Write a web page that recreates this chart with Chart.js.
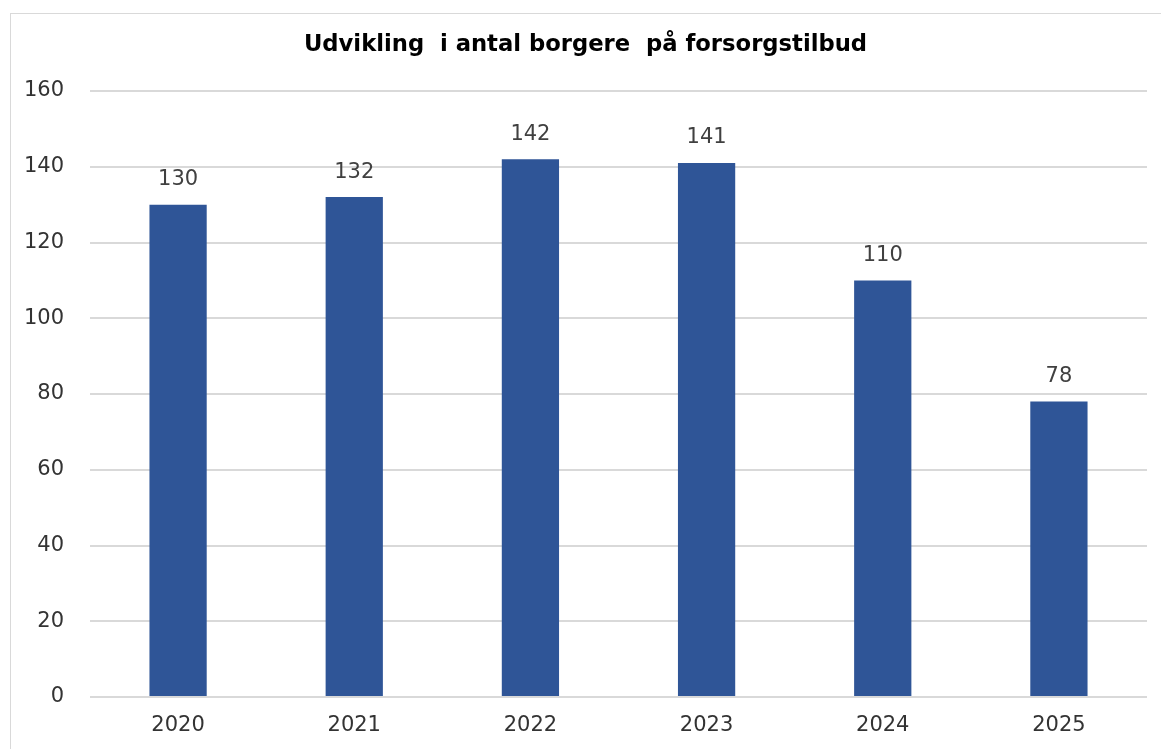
<!DOCTYPE html>
<html>
<head>
<meta charset="utf-8">
<script src="https://cdn.jsdelivr.net/npm/chart.js@4/dist/chart.umd.min.js"></script>
<style>
  html, body { margin: 0; padding: 0; background: #ffffff; }
  #wrap { width: 1161px; height: 749px; position: relative; }
</style>
</head>
<body>
<div id="wrap"><canvas id="c" width="1161" height="749"></canvas></div>
<script>
const categories = ["2020", "2021", "2022", "2023", "2024", "2025"];
const values = [130, 132, 142, 141, 110, 78];
const yTicks = [0, 20, 40, 60, 80, 100, 120, 140, 160];
const chartTitle = "Udvikling  i antal borgere  på forsorgstilbud";

const FONT = "'DejaVu Sans', Verdana, sans-serif";

const frame = {
  id: 'frame',
  beforeDraw(chart) {
    const ctx = chart.ctx;
    ctx.save();
    ctx.fillStyle = '#ffffff';
    ctx.fillRect(0, 0, chart.width, chart.height);
    ctx.strokeStyle = '#d9d9d9';
    ctx.lineWidth = 1;
    ctx.strokeRect(10.5, 13.5, chart.width + 20, chart.height + 20);
    ctx.restore();
  }
};

const barLabels = {
  id: 'barLabels',
  afterDatasetsDraw(chart) {
    const ctx = chart.ctx;
    const meta = chart.getDatasetMeta(0);
    ctx.save();
    ctx.font = '21px ' + FONT;
    ctx.fillStyle = '#404040';
    ctx.textAlign = 'center';
    ctx.textBaseline = 'middle';
    meta.data.forEach((bar, i) => {
      ctx.fillText(String(values[i]), bar.x, bar.y - 25);
    });
    ctx.restore();
  }
};

new Chart(document.getElementById('c'), {
  type: 'bar',
  data: {
    labels: categories,
    datasets: [{
      data: values,
      backgroundColor: '#2F5597',
      borderColor: '#2F5597',
      borderWidth: 0,
      categoryPercentage: 1,
      barPercentage: 0.325
    }]
  },
  options: {
    responsive: false,
    animation: false,
    layout: { padding: { left: 24, right: 14, top: 0, bottom: 0 } },
    plugins: {
      legend: { display: false },
      tooltip: { enabled: false },
      title: {
        display: true,
        text: chartTitle,
        color: '#000000',
        font: { family: FONT, size: 22.7, weight: 'bold' },
        padding: { top: 31.5, bottom: 32.3 }
      }
    },
    scales: {
      x: {
        grid: { display: false, drawTicks: false },
        border: { display: false },
        afterFit(scale) { scale.height = 52; },
        ticks: {
          color: '#333333',
          font: { family: FONT, size: 21 },
          padding: 16
        }
      },
      y: {
        min: 0,
        max: 160,
        afterBuildTicks(scale) {
          scale.ticks = yTicks.map(v => ({ value: v }));
        },
        afterFit(scale) { scale.width = 66; },
        grid: { color: '#d9d9d9', lineWidth: 2, drawTicks: false },
        border: { display: false },
        ticks: {
          color: '#333333',
          font: { family: FONT, size: 21 },
          padding: 26
        }
      }
    }
  },
  plugins: [frame, barLabels]
});
</script>
</body>
</html>
